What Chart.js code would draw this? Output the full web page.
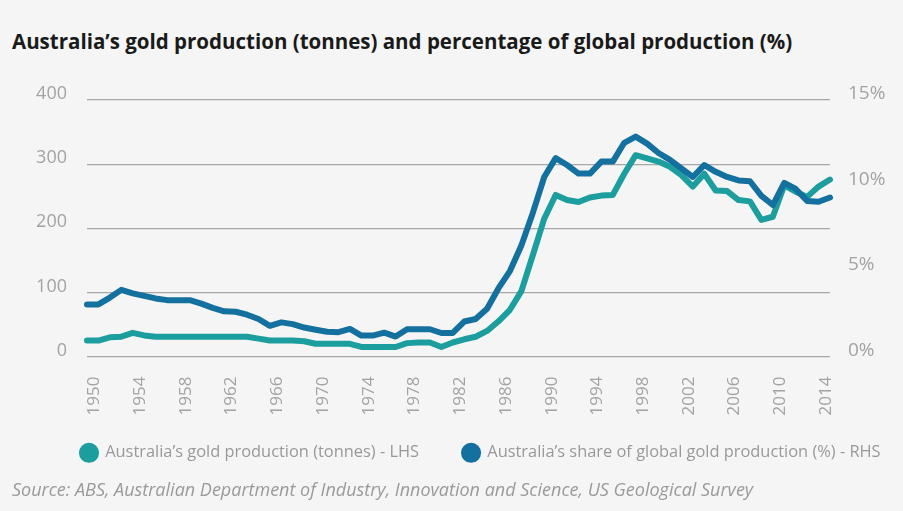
<!DOCTYPE html>
<html>
<head>
<meta charset="utf-8">
<script src="https://cdn.jsdelivr.net/npm/chart.js@4.4.1/dist/chart.umd.min.js"></script>
<style>
  html, body { margin: 0; padding: 0; background: #f5f5f5; }
  body { width: 903px; height: 511px; position: relative; overflow: hidden; font-family: "Open Sans", sans-serif; }
  #title { position: absolute; left: 12px; top: 27px; font-size: 20.5px; font-weight: 700; color: #1a1a1a; white-space: nowrap; }
  #wrap { position: absolute; left: 0; top: 80px; width: 903px; height: 407px; }
  #source { position: absolute; left: 12px; top: 477px; font-size: 18px; font-style: italic; color: #9a9a9a; white-space: nowrap; }
</style>
</head>
<body>
<div id="title">Australia’s gold production (tonnes) and percentage of global production (%)</div>
<div id="wrap"><canvas id="chart"></canvas></div>
<div id="source">Source: ABS, Australian Department of Industry, Innovation and Science, US Geological Survey</div>
<script>
var years = [1949, 1950, 1951, 1952, 1953, 1954, 1955, 1956, 1957, 1958,
  1959, 1960, 1961, 1962, 1963, 1964, 1965, 1966, 1967, 1968,
  1969, 1970, 1971, 1972, 1973, 1974, 1975, 1976, 1977, 1978,
  1979, 1980, 1981, 1982, 1983, 1984, 1985, 1986, 1987, 1988,
  1989, 1990, 1991, 1992, 1993, 1994, 1995, 1996, 1997, 1998,
  1999, 2000, 2001, 2002, 2003, 2004, 2005, 2006, 2007, 2008,
  2009, 2010, 2011, 2012, 2013, 2014];

// tonnes, left axis
var goldTonnes = [25, 25, 30, 31, 37, 33, 31, 31, 31, 31,
  31, 31, 31, 31, 31, 28, 25, 25, 25, 24,
  20, 20, 20, 20, 15, 15, 15, 15, 21, 22,
  22, 15, 22, 27, 31, 40, 55, 73, 102, 158,
  215, 252, 244, 241, 248, 251, 252, 285, 314, 309,
  304, 296, 283, 265, 285, 259, 258, 244, 242, 213,
  218, 267, 257, 249, 265, 276];

// % of global production, right axis
var globalShare = [3.05, 3.05, 3.45, 3.9, 3.7, 3.55, 3.4, 3.3, 3.3, 3.3,
  3.1, 2.85, 2.65, 2.62, 2.45, 2.2, 1.8, 2.0, 1.9, 1.7,
  1.57, 1.45, 1.43, 1.62, 1.23, 1.23, 1.4, 1.17, 1.6, 1.6,
  1.6, 1.38, 1.38, 2.05, 2.2, 2.8, 4.0, 5.0, 6.5, 8.4,
  10.5, 11.6, 11.2, 10.7, 10.7, 11.4, 11.4, 12.5, 12.86, 12.45,
  11.9, 11.5, 11.0, 10.5, 11.2, 10.8, 10.5, 10.3, 10.25, 9.4,
  8.86, 10.16, 9.8, 9.1, 9.05, 9.3];

var tickYears = [1950, 1954, 1958, 1962, 1966, 1970, 1974, 1978, 1982,
  1986, 1990, 1994, 1998, 2002, 2006, 2010, 2014];
var tonneTicks = [0, 100, 200, 300, 400];
var shareTicks = [0, 5, 10, 15];

var teal = "#1c9d9e";
var blue = "#13709f";
var grey = "#a3a3a3";

Chart.defaults.font.family = "Open Sans";

// move the legend row up under the axis labels and keep both items on one line
var legendNudge = {
  id: "legendNudge",
  afterLayout: function (chart) {
    chart.legend.left = 37;
    chart.legend.right = chart.width + 50;
    chart.legend.top -= 16;
  },
};

// the plot area is placed by layout padding, not by the tick label heights
function noVerticalPadding(scale) {
  scale.paddingTop = 0;
  scale.paddingBottom = 0;
}

var ctx = document.getElementById("chart").getContext("2d");

new Chart(ctx, {
  type: "line",
  data: {
    labels: years,
    datasets: [
      {
        label: "Australia’s gold production (tonnes) - LHS",
        data: goldTonnes,
        yAxisID: "y",
        borderColor: teal,
        backgroundColor: teal,
        borderWidth: 6,
        borderJoinStyle: "round",
        borderCapStyle: "round",
        pointRadius: 0,
        tension: 0,
        order: 1,
      },
      {
        label: "Australia’s share of global gold production (%) - RHS",
        data: globalShare,
        yAxisID: "y1",
        borderColor: blue,
        backgroundColor: blue,
        borderWidth: 6,
        borderJoinStyle: "round",
        borderCapStyle: "round",
        pointRadius: 0,
        tension: 0,
        order: 0,
      },
    ],
  },
  plugins: [legendNudge],
  options: {
    responsive: true,
    maintainAspectRatio: false,
    animation: false,
    layout: {
      padding: { top: 20, left: 0, right: 0, bottom: 0 },
    },
    plugins: {
      legend: {
        position: "bottom",
        align: "start",
        labels: {
          usePointStyle: true,
          pointStyle: "circle",
          boxWidth: 16,
          boxHeight: 10,
          padding: 44,
          color: "#999999",
          font: { size: 16.4 },
          sort: function (a, b) { return a.datasetIndex - b.datasetIndex; },
        },
      },
      tooltip: { enabled: false },
    },
    scales: {
      x: {
        grid: { display: false },
        border: { display: false },
        ticks: {
          autoSkip: false,
          maxRotation: 90,
          minRotation: 90,
          padding: 12,
          labelOffset: -4,
          color: grey,
          font: { size: 17 },
          callback: function (value, index) {
            var yr = years[index];
            return tickYears.indexOf(yr) >= 0 ? String(yr) : null;
          },
        },
        afterFit: function (scale) { scale.height = 60; },
      },
      y: {
        position: "left",
        min: tonneTicks[0],
        max: tonneTicks[tonneTicks.length - 1],
        ticks: {
          stepSize: 100,
          padding: 20,
          labelOffset: -6,
          color: grey,
          font: { size: 18 },
        },
        grid: { color: "#a8a8a8", lineWidth: 1.3, drawTicks: false },
        border: { display: false },
        afterFit: function (scale) { scale.width = 87; noVerticalPadding(scale); },
      },
      y1: {
        position: "right",
        min: shareTicks[0],
        max: shareTicks[shareTicks.length - 1],
        ticks: {
          stepSize: 5,
          padding: 10,
          labelOffset: -6,
          color: grey,
          font: { size: 19 },
          callback: function (v) { return v + "%"; },
        },
        grid: { display: false },
        border: { display: false },
        afterFit: function (scale) { scale.width = 73; noVerticalPadding(scale); },
      },
    },
  },
});
</script>
</body>
</html>
